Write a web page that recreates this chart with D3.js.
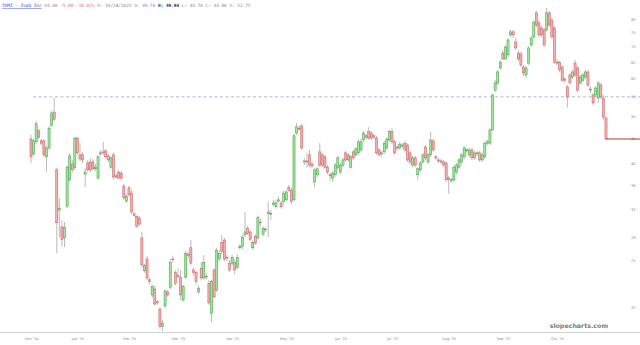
<!DOCTYPE html>
<html>
<head>
<meta charset="utf-8">
<script src="https://cdn.jsdelivr.net/npm/d3@7"></script>
<style>
  html, body { margin: 0; padding: 0; background: #fff; }
  svg { display: block; }
</style>
</head>
<body>
<div id="chart"></div>
<script>
// daily candles, [open, high, low, close]
const ohlc = [
  [44.9,45.8,40.0,41.2],[41.8,44.9,41.4,44.5],[44.3,49.0,43.8,48.3],[46.7,47.1,44.9,45.3],[44.5,44.9,43.6,44.0],
  [44.5,44.7,41.2,41.6],[41.2,43.4,38.3,43.0],[43.0,47.8,42.6,47.3],[48.0,51.4,47.6,50.9],[51.1,54.7,49.0,49.4],
  [38.7,39.1,25.9,30.0],[31.9,33.8,28.0,32.2],[29.4,30.4,26.7,27.7],[27.9,30.1,26.7,29.3],[32.5,39.6,32.2,39.2],
  [36.9,42.0,36.5,41.4],[39.8,40.6,38.1,38.7],[39.1,45.3,38.7,45.1],[45.1,45.3,41.6,42.0],[41.6,44.0,40.4,40.8],
  [41.6,42.2,40.0,40.6],[37.9,39.1,35.6,38.3],[40.0,40.6,38.3,38.7],[40.2,41.0,38.3,38.7],[40.2,40.8,38.5,38.9],
  [38.9,39.8,38.5,39.2],[37.2,41.6,36.9,41.2],[41.8,42.6,41.4,42.0],[42.2,44.3,41.6,42.0],[42.4,42.8,40.8,41.2],
  [41.4,41.8,40.2,40.6],[39.2,41.4,38.9,41.0],[41.6,42.0,37.0,37.4],[37.6,37.9,37.0,37.4],[38.3,38.7,36.9,37.2],
  [38.1,38.5,36.7,37.2],[35.8,36.2,33.5,33.8],[33.3,34.5,33.0,34.1],[35.5,35.8,34.0,34.3],[34.6,35.1,31.3,31.6],
  [31.3,31.6,30.9,31.1],[30.9,31.1,29.3,29.5],[30.7,31.0,29.5,29.8],[27.9,28.7,24.2,24.5],[23.8,24.6,23.6,24.4],
  [25.2,25.6,22.8,23.0],[22.8,23.0,22.3,22.6],[21.2,22.3,20.9,22.1],[21.8,22.1,20.1,20.3],[20.5,20.7,20.2,20.4],
  [19.8,20.0,18.0,18.2],[18.2,18.8,17.8,18.5],[20.1,21.8,19.9,21.6],[21.5,21.7,21.0,21.2],[22.0,25.2,21.8,24.8],
  [25.2,25.6,24.8,25.1],[23.6,23.9,22.2,22.4],[23.3,24.1,23.0,23.2],[23.1,23.9,20.7,21.2],[20.7,22.3,20.5,22.1],
  [23.1,26.2,22.9,25.9],[25.8,26.1,25.3,25.6],[26.6,27.6,24.5,24.7],[23.9,24.2,23.3,23.6],[23.6,23.8,22.3,22.6],
  [21.5,22.2,21.3,21.9],[24.1,24.8,22.8,23.0],[23.0,25.7,22.8,24.8],[23.2,23.6,22.8,23.1],[22.4,22.8,20.2,20.4],
  [19.4,22.8,18.6,22.6],[23.9,24.1,20.8,21.0],[21.7,26.6,21.5,26.3],[25.2,26.3,24.9,25.9],[27.3,28.3,25.8,26.1],
  [27.6,27.9,24.9,25.2],[25.4,25.7,24.9,25.3],[24.7,25.1,23.7,23.9],[24.7,25.7,24.4,25.4],[24.8,25.2,23.4,23.9],
  [24.2,25.8,24.0,25.4],[26.6,27.1,26.3,26.8],[26.8,28.3,26.4,28.0],[28.3,31.6,28.0,28.7],[29.2,29.5,28.3,28.5],
  [28.7,29.0,27.5,27.7],[26.6,27.6,26.3,27.3],[28.1,28.4,27.0,27.2],[27.9,31.1,27.6,30.8],[30.1,30.6,29.5,30.0],
  [28.4,29.5,28.1,29.2],[29.1,29.4,28.7,29.0],[31.4,33.2,28.0,31.6],[31.3,31.9,30.4,31.4],[32.8,33.5,32.5,33.0],
  [32.4,33.5,32.1,33.0],[33.3,34.0,33.0,33.5],[33.0,33.3,32.1,32.4],[33.2,35.0,32.8,34.6],[33.5,35.1,33.2,34.8],
  [35.6,36.0,34.8,35.1],[35.1,35.5,32.8,33.2],[33.5,46.1,33.3,45.6],[46.2,48.5,45.8,47.6],[47.3,48.0,46.7,47.1],
  [47.8,48.3,42.6,43.0],[40.4,41.0,39.6,40.2],[40.2,42.0,39.1,40.4],[41.6,42.6,39.2,39.6],[39.8,40.2,39.1,39.4],
  [36.5,39.1,35.6,38.7],[37.8,39.2,37.4,38.9],[42.2,44.0,39.2,39.6],[41.6,42.0,39.2,39.6],[41.2,41.6,38.9,39.2],
  [39.2,39.6,37.9,38.3],[37.8,38.1,36.7,37.6],[37.2,38.5,36.5,38.1],[37.8,40.0,37.4,39.6],[39.1,41.4,38.7,41.0],
  [38.3,40.0,37.9,39.6],[39.6,41.0,39.2,40.6],[42.0,42.4,40.2,40.6],[41.6,42.0,40.2,40.6],[39.2,41.6,38.9,41.2],
  [42.2,42.6,40.6,41.0],[41.6,43.2,41.2,42.8],[42.0,44.7,41.6,44.3],[42.6,44.9,42.2,44.3],[44.7,46.7,44.3,46.2],
  [45.6,46.0,44.9,45.3],[46.5,47.6,44.7,45.1],[46.2,46.7,44.7,45.1],[45.6,46.0,44.9,45.3],[45.1,45.6,41.6,42.0],
  [42.6,43.0,41.2,41.6],[41.8,42.4,41.2,42.0],[42.2,44.5,41.8,44.0],[43.0,45.3,42.6,44.9],[44.7,46.9,44.3,46.5],
  [46.5,47.3,43.8,44.3],[44.3,44.7,41.6,42.0],[43.2,43.6,42.4,43.0],[43.0,44.3,42.6,43.8],[43.4,44.0,43.0,43.6],
  [44.0,44.5,42.2,42.6],[43.6,44.0,40.2,40.6],[42.0,42.4,39.8,40.2],[39.6,41.4,39.2,41.0],[41.0,41.4,39.2,39.6],
  [37.8,39.2,36.9,38.9],[38.7,40.4,38.3,40.0],[40.2,42.0,39.8,41.6],[43.2,43.6,40.6,41.0],[40.2,42.0,39.8,41.6],
  [41.6,46.5,41.2,44.7],[44.5,44.9,42.2,42.6],[41.2,41.6,40.6,41.0],[40.6,41.0,40.0,40.4],[40.4,40.8,39.8,40.2],
  [40.2,40.6,39.2,39.6],[40.0,40.4,36.5,36.9],[37.2,37.6,34.5,37.0],[36.7,37.2,36.4,36.9],[36.9,39.6,36.5,39.2],
  [38.3,40.0,37.9,39.6],[39.2,41.0,38.9,40.6],[40.2,42.0,39.8,41.6],[41.2,43.4,40.8,43.0],[42.4,43.0,42.0,42.6],
  [41.6,43.0,41.2,42.6],[42.6,43.0,40.6,41.0],[41.0,42.4,40.6,42.0],[41.8,42.4,41.4,42.0],[42.0,42.4,40.2,40.6],
  [40.6,42.0,40.2,41.6],[41.2,44.5,40.8,44.0],[44.0,44.7,43.6,44.3],[44.0,47.3,43.6,46.9],[46.9,55.8,46.7,55.5],
  [56.8,59.6,56.3,58.8],[58.8,62.6,58.2,62.0],[63.2,65.7,62.6,65.0],[67.9,68.9,65.7,66.0],[66.0,70.6,65.7,69.9],
  [67.3,73.0,66.6,72.3],[74.1,75.9,73.4,75.2],[75.2,75.9,73.0,74.1],[71.6,73.0,68.9,69.6],[67.9,68.9,65.4,66.0],
  [67.6,68.3,63.5,64.1],[63.5,64.1,60.8,61.7],[61.1,63.8,60.2,63.2],[64.7,70.3,64.1,69.6],[70.6,73.7,69.9,73.0],
  [73.4,79.6,72.7,78.8],[82.4,83.1,77.0,77.7],[78.5,79.6,73.4,74.1],[76.6,77.3,73.4,74.1],[75.9,76.6,69.9,70.6],
  [75.9,84.3,75.2,82.4],[82.4,83.1,77.0,77.7],[79.6,80.4,72.7,73.4],[76.6,77.3,64.4,65.0],[65.0,66.0,64.1,64.7],
  [65.0,65.4,62.0,62.6],[63.5,64.1,59.1,59.6],[59.9,60.5,58.8,59.6],[57.7,58.2,52.2,55.0],[61.1,61.7,58.5,58.8],
  [60.5,62.6,59.9,62.0],[64.7,65.7,60.5,61.1],[63.2,63.8,56.3,56.8],[58.8,61.1,58.2,60.5],[59.6,61.7,59.1,61.1],
  [60.5,62.6,59.9,62.0],[62.0,62.6,57.7,58.2],[57.1,57.9,56.0,56.8],[55.5,56.0,52.9,53.4],[55.5,57.9,55.0,57.4],
  [54.7,59.4,53.4,58.8],[58.2,58.8,54.4,55.0],[54.7,55.5,49.2,49.9],[49.7,49.9,44.7,44.9]
];

// trading days per month, starting Dec 5 2024
const monthLabels = ["Dec '24", "Jan '25", "Feb '25", "Mar '25", "Apr '25", "May '25",
                     "Jun '25", "Jul '25", "Aug '25", "Sep '25", "Oct '25"];
const monthDays = [18, 20, 19, 21, 21, 21, 20, 22, 21, 21, 20];

const yTicks = [20, 25, 28, 32, 36, 40, 45, 50, 55, 60, 65, 70, 75, 80];
const levelPrice = 55.0;   // dashed horizontal line

const ticker = "ZOMZ - ZoaQ Inc";
const lastDate = "10/28/2025";
const lastVolume = "52.75";

const width = 640, height = 345;
const upFill = "#9de89d", upStroke = "#3f9a3f";
const downFill = "#f3aeae", downStroke = "#c45a5a";

const svg = d3.select("#chart").append("svg")
  .attr("width", width)
  .attr("height", height);

// scales
const x = d3.scaleLinear().domain([0, ohlc.length - 1]).range([31, 606]);
const y = d3.scaleLog().domain([20, 80]).range([307, 19]);

// month start indices
const monthStarts = [];
monthDays.reduce((acc, n) => { monthStarts.push(acc); return acc + n; }, 0);

// bottom axis
const xAxis = svg.append("g")
  .attr("transform", "translate(0,332)")
  .call(d3.axisBottom(x).tickValues(monthStarts)
    .tickFormat((d, i) => monthLabels[i]).tickSize(0).tickPadding(5));
xAxis.select(".domain").remove();
xAxis.selectAll("text")
  .attr("font-family", "DejaVu Sans, sans-serif")
  .attr("font-size", 3.6)
  .attr("fill", "#8a8a8a");
svg.append("line")
  .attr("x1", 0).attr("x2", width)
  .attr("y1", 332.5).attr("y2", 332.5)
  .attr("stroke", "#d4d4d4").attr("stroke-width", 1);

// right axis
const yAxis = svg.append("g")
  .attr("transform", "translate(629,0)")
  .call(d3.axisRight(y).tickValues(yTicks).tickFormat(d3.format("d")).tickSize(0).tickPadding(2));
yAxis.select(".domain").remove();
yAxis.selectAll("text")
  .attr("font-family", "DejaVu Sans, sans-serif")
  .attr("font-size", 3.6)
  .attr("fill", "#8a8a8a");

// dashed level line
svg.append("line")
  .attr("x1", x(0) + 2).attr("x2", width)
  .attr("y1", y(levelPrice)).attr("y2", y(levelPrice))
  .attr("stroke", "#9ea3d6")
  .attr("stroke-width", 0.8)
  .attr("stroke-dasharray", "3,2.5");

// candles
const g = svg.append("g");
const bw = 2.1;
g.selectAll("line.wick")
  .data(ohlc)
  .join("line")
  .attr("class", "wick")
  .attr("x1", (d, i) => x(i)).attr("x2", (d, i) => x(i))
  .attr("y1", d => y(d[1])).attr("y2", d => y(d[2]))
  .attr("stroke", "#8d8d8d")
  .attr("stroke-width", 0.6);

g.selectAll("rect.body")
  .data(ohlc)
  .join("rect")
  .attr("class", "body")
  .attr("x", (d, i) => x(i) - bw / 2)
  .attr("width", bw)
  .attr("y", d => y(Math.max(d[0], d[3])))
  .attr("height", d => Math.max(0.8, Math.abs(y(d[0]) - y(d[3]))))
  .attr("fill", d => d[3] >= d[0] ? upFill : downFill)
  .attr("stroke", d => d[3] >= d[0] ? upStroke : downStroke)
  .attr("stroke-width", 0.5);

// last price line
const last = ohlc[ohlc.length - 1];
const prev = ohlc[ohlc.length - 2];
svg.append("line")
  .attr("x1", x(ohlc.length - 1)).attr("x2", width)
  .attr("y1", y(last[3])).attr("y2", y(last[3]))
  .attr("stroke", "#c9302c")
  .attr("stroke-width", 1);

// title line
const chg = last[3] - prev[3];
const pct = chg / prev[3] * 100;
const title = svg.append("text")
  .attr("x", 2).attr("y", 7)
  .attr("font-family", "DejaVu Sans Mono, monospace")
  .attr("font-size", 4.4)
  .attr("fill", "#8a8a8a");
title.append("tspan").text(ticker)
  .attr("fill", "#3848c8").attr("text-decoration", "underline");
title.append("tspan").text(" " + last[3].toFixed(2));
title.append("tspan").text(" " + chg.toFixed(2) + " " + pct.toFixed(2) + "%").attr("fill", "#e06b6b");
title.append("tspan").text(" D: " + lastDate + " O: " + last[0].toFixed(2) + " ");
title.append("tspan").text("H: " + last[1].toFixed(2)).attr("fill", "#333").attr("font-weight", "bold");
title.append("tspan").text(" L: " + last[2].toFixed(2) + " C: " + last[3].toFixed(2) + " V: " + lastVolume);

// watermark
svg.append("text")
  .attr("x", 608).attr("y", 328)
  .attr("text-anchor", "end")
  .attr("font-family", "DejaVu Sans, sans-serif")
  .attr("font-size", 6.3)
  .attr("font-weight", "bold")
  .attr("fill", "#7d7d7d")
  .text("slopecharts.com");
</script>
</body>
</html>
